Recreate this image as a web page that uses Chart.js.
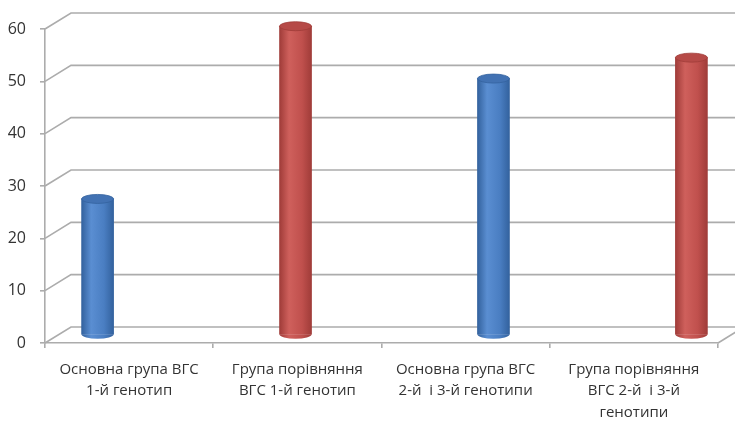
<!DOCTYPE html>
<html>
<head>
<meta charset="utf-8">
<script src="https://cdn.jsdelivr.net/npm/chart.js@4.4.0/dist/chart.umd.min.js"></script>
<style>
  html, body { margin: 0; padding: 0; background: #fff; }
  #wrap { width: 735px; height: 424px; }
</style>
</head>
<body>
<div id="wrap"><canvas id="myChart"></canvas></div>
<script>
// categories (multi-line labels), values and which colour group each bar belongs to
var categories = [
    ["Основна група ВГС", "1-й генотип"],
    ["Група порівняння", "ВГС 1-й генотип"],
    ["Основна група ВГС", "2-й  і 3-й генотипи"],
    ["Група порівняння", "ВГС 2-й  і 3-й", "генотипи"]
];
var values = [26, 59, 49, 53];
var groups = ["blue", "red", "blue", "red"];
var yMin = 0, yMax = 60, yStep = 10;

var palette = {
    blue: { dark: "#33629e", mid: "#4a7ec2", light: "#5a8ed2", cap: "#4272b3" },
    red:  { dark: "#a03c39", mid: "#c0504d", light: "#cf605c", cap: "#b64a47" }
};
var gridColor = "#acacac";
var textColor = "#333333";
var depth = { x: 26, y: -16 };   // offset of the back wall (fake 3d)

function cylGradient(c2d, cx, half, c) {
    var g = c2d.createLinearGradient(cx - half, 0, cx + half, 0);
    g.addColorStop(0, c.dark);
    g.addColorStop(0.3, c.light);
    g.addColorStop(0.7, c.mid);
    g.addColorStop(1, c.dark);
    return g;
}

function bodyFill(context) {
    var chart = context.chart;
    var c = palette[groups[context.dataIndex]];
    var xs = chart.scales.xb;
    if (!xs || !context.parsed) return c.mid;
    var cx = xs.getPixelForValue(context.parsed.x);
    if (!isFinite(cx)) return c.mid;
    return cylGradient(chart.ctx, cx, 16, c);
}

var wall3d = {
    id: 'wall3d',
    beforeDatasetsDraw: function(chart) {
        var ctx = chart.ctx;
        var ys = chart.scales.y;
        var area = chart.chartArea;
        ctx.save();
        ctx.strokeStyle = gridColor;
        ctx.lineWidth = 1.6;
        ys.ticks.forEach(function(t) {
            var fy = ys.getPixelForValue(t.value);
            ctx.beginPath();
            ctx.moveTo(area.left, fy);
            ctx.lineTo(area.left + depth.x, fy + depth.y);
            ctx.lineTo(chart.width, fy + depth.y);
            ctx.stroke();
        });
        // right edge of the floor
        var by = ys.getPixelForValue(yMin);
        ctx.beginPath();
        ctx.moveTo(area.right, by);
        ctx.lineTo(area.right + depth.x, by + depth.y);
        ctx.stroke();
        ctx.restore();

        // bars sit half way into the depth
        ctx.save();
        ctx.translate(depth.x / 2, depth.y / 2);
    },
    afterDatasetsDraw: function(chart) {
        var ctx = chart.ctx;
        var meta = chart.getDatasetMeta(0);
        meta.data.forEach(function(bar, i) {
            var p = bar.getProps(['x', 'y', 'base', 'width'], true);
            var c = palette[groups[i]];
            var rx = p.width / 2, ry = 4.5;
            ctx.beginPath();
            ctx.ellipse(p.x, p.base, rx, ry, 0, 0, Math.PI);
            ctx.fillStyle = cylGradient(ctx, p.x, rx, c);
            ctx.fill();
            ctx.beginPath();
            ctx.ellipse(p.x, p.y, rx, ry, 0, 0, Math.PI * 2);
            ctx.fillStyle = c.cap;
            ctx.fill();
            ctx.lineWidth = 0.8;
            ctx.strokeStyle = c.dark;
            ctx.stroke();
        });
        ctx.restore();
    }
};

var ctx = document.getElementById("myChart").getContext("2d");

var config = {
    type: 'bar',
    data: {
        labels: categories,
        datasets: [{
            data: values.map(function(v, i) { return { x: i, y: v }; }),
            xAxisID: 'xb',
            yAxisID: 'y',
            backgroundColor: bodyFill,
            borderWidth: 0,
            barThickness: 32,
            clip: false
        }]
    },
    options: {
        responsive: true,
        maintainAspectRatio: false,
        animation: false,
        layout: { padding: { top: 29, right: 17, left: 0, bottom: 0 } },
        plugins: {
            legend: { display: false },
            tooltip: { enabled: false }
        },
        scales: {
            x: {
                type: 'category',
                offset: true,
                grid: { offset: true, drawOnChartArea: false, tickLength: 5, color: gridColor, lineWidth: 1.6 },
                border: { color: gridColor, width: 1.6 },
                ticks: {
                    color: textColor,
                    padding: 11,
                    maxRotation: 0,
                    autoSkip: false,
                    font: { family: "'Open Sans', sans-serif", size: 15, lineHeight: 1.43 }
                },
                afterFit: function(s) { s.height = 81; }
            },
            xb: {
                type: 'linear',
                display: false,
                offset: false,
                min: -0.2,
                max: 3.2
            },
            y: {
                min: yMin,
                max: yMax,
                grid: { drawOnChartArea: false, tickLength: 5, color: gridColor, lineWidth: 1.6 },
                border: { color: gridColor, width: 1.6 },
                ticks: {
                    stepSize: yStep,
                    color: textColor,
                    padding: 14,
                    font: { family: "'Open Sans', sans-serif", size: 16 }
                },
                afterFit: function(s) { s.width = 45; }
            }
        }
    },
    plugins: [wall3d]
};

var myChart = new Chart(ctx, config);
</script>
</body>
</html>
